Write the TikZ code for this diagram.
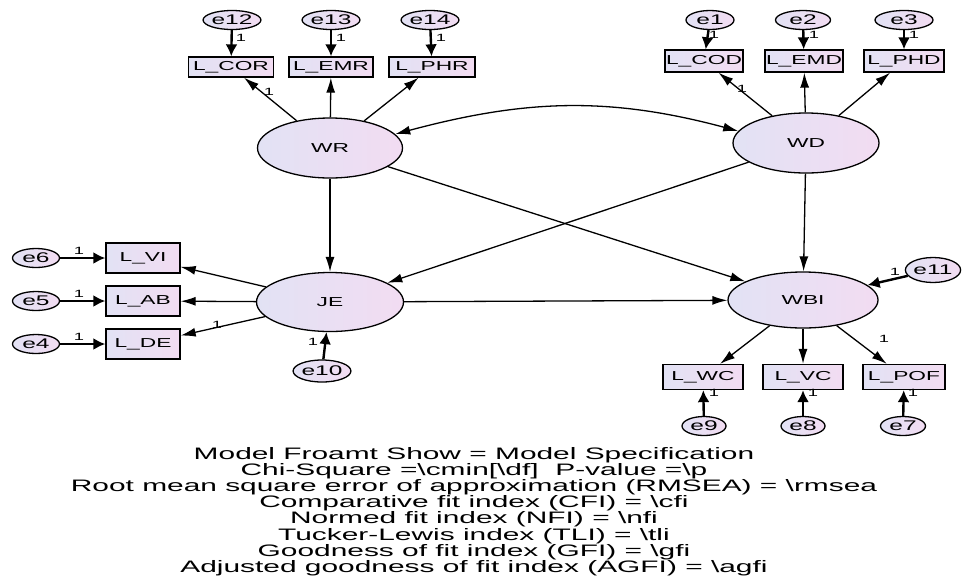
\documentclass[tikz,border=0pt]{standalone}
\usepackage{fontspec}
\setmainfont{Liberation Sans}
\usepackage{graphicx}
\usetikzlibrary{shapes.geometric,arrows.meta}
\definecolor{lavL}{RGB}{226,226,244}
\definecolor{lavR}{RGB}{242,220,242}
\newcommand\sx[1]{\scalebox{1.75}[1]{#1}}
\begin{document}
\begin{tikzpicture}[x=1pt,y=1pt,
 lat/.style={ellipse, draw, line width=1.3pt, left color=lavL, right color=lavR, inner sep=0pt, font=\fontsize{13}{14}\selectfont},
 obs/.style={rectangle, draw, line width=1.3pt, left color=lavL, right color=lavR, inner sep=0pt, font=\fontsize{13}{14}\selectfont},
 err/.style={ellipse, draw, line width=1.3pt, left color=lavL, right color=lavR, inner sep=0pt, minimum height=19pt, font=\fontsize{14}{15}\selectfont},
 one/.style={inner sep=0pt, font=\fontsize{10.5}{11}\selectfont},
 reg/.style={line width=1.3pt, -{Latex[length=15pt,width=9pt]}},
 epath/.style={line width=2.4pt, -{Latex[length=12pt,width=12pt]}},
 fitline/.style={anchor=base, xscale=1.8, inner sep=0pt, font=\fontsize{16.6}{16}\selectfont}
]
\useasboundingbox (0,0) rectangle (965,-579);

% latent variables
\node[lat, minimum width=145pt, minimum height=60pt] (WR) at (330,-148) {\sx{WR}};
\node[lat, minimum width=146pt, minimum height=60pt] (WD) at (806,-143) {\sx{WD}};
\node[lat, minimum width=147pt, minimum height=59pt] (JE) at (330,-302) {\sx{JE}};
\node[lat, minimum width=150pt, minimum height=56pt] (WBI) at (803,-300) {\sx{WBI}};

% observed
\node[obs, minimum width=85pt, minimum height=20pt] (LCOR) at (231,-67) {\sx{L\_COR}};
\node[obs, minimum width=84pt, minimum height=20pt] (LEMR) at (331,-67) {\sx{L\_EMR}};
\node[obs, minimum width=86pt, minimum height=20pt] (LPHR) at (432,-67) {\sx{L\_PHR}};
\node[obs, minimum width=78pt, minimum height=22pt] (LCOD) at (704,-61) {\sx{L\_COD}};
\node[obs, minimum width=78pt, minimum height=22pt] (LEMD) at (804,-61) {\sx{L\_EMD}};
\node[obs, minimum width=80pt, minimum height=22pt] (LPHD) at (904,-61) {\sx{L\_PHD}};
\node[obs, minimum width=74pt, minimum height=30pt] (LVI) at (143,-258) {\sx{L\_VI}};
\node[obs, minimum width=74pt, minimum height=30pt] (LAB) at (143,-301) {\sx{L\_AB}};
\node[obs, minimum width=74pt, minimum height=30pt] (LDE) at (143,-344) {\sx{L\_DE}};
\node[obs, minimum width=80pt, minimum height=25pt] (LWC) at (703,-377) {\sx{L\_WC}};
\node[obs, minimum width=80pt, minimum height=25pt] (LVC) at (803,-377) {\sx{L\_VC}};
\node[obs, minimum width=82pt, minimum height=25pt] (LPOF) at (904,-377) {\sx{L\_POF}};

% errors
\node[err, minimum width=56pt] (e12) at (232,-20) {\sx{e12}};
\node[err, minimum width=56pt] (e13) at (331,-20) {\sx{e13}};
\node[err, minimum width=56pt] (e14) at (430,-20) {\sx{e14}};
\node[err, minimum width=48pt] (e1) at (710,-20) {\sx{e1}};
\node[err, minimum width=55pt] (e2) at (803,-20) {\sx{e2}};
\node[err, minimum width=58pt] (e3) at (904,-20) {\sx{e3}};
\node[err, minimum width=47pt] (e6) at (36,-258) {\sx{e6}};
\node[err, minimum width=47pt] (e5) at (36,-301) {\sx{e5}};
\node[err, minimum width=47pt] (e4) at (36,-344) {\sx{e4}};
\node[err, minimum width=51pt, minimum height=22pt] (e10) at (322,-371) {\sx{e10}};
\node[err, minimum width=53pt, minimum height=25pt] (e11) at (933,-270) {\sx{e11}};
\node[err, minimum width=44pt] (e9) at (704,-426) {\sx{e9}};
\node[err, minimum width=44pt] (e8) at (803,-426) {\sx{e8}};
\node[err, minimum width=45pt] (e7) at (903,-426) {\sx{e7}};

% error paths
\foreach \a/\b in {e12/LCOR,e13/LEMR,e14/LPHR,e1/LCOD,e2/LEMD,e3/LPHD,e6/LVI,e5/LAB,e4/LDE,e10/JE,e11/WBI,e9/LWC,e8/LVC,e7/LPOF}
  \draw[epath] (\a) -- (\b);

% measurement paths
\foreach \a/\b in {WR/LCOR,WR/LEMR,WR/LPHR,WD/LCOD,WD/LEMD,WD/LPHD,JE/LVI,JE/LAB,JE/LDE,WBI/LWC,WBI/LVC,WBI/LPOF}
  \draw[reg] (\a) -- (\b);

% structural paths
\draw[reg] (WR) -- (JE);
\draw[reg] (WR) -- (WBI);
\draw[reg] (WD) -- (JE);
\draw[reg] (WD) -- (WBI);
\draw[reg] (JE) -- (WBI);
\draw[line width=1.3pt, {Latex[length=15pt,width=9pt]}-{Latex[length=15pt,width=9pt]}] (WR.12) to[out=15,in=165] (WD.170);

% "1" labels
\node[one] (o1) at (241,-38) {\sx{1}};
\node[one] (o2) at (341,-38) {\sx{1}};
\node[one] (o3) at (441,-38) {\sx{1}};
\node[one] (o4) at (269,-92) {\sx{1}};
\node[one] (o5) at (714,-35) {\sx{1}};
\node[one] (o6) at (814,-35) {\sx{1}};
\node[one] (o7) at (914,-35) {\sx{1}};
\node[one] (o8) at (742,-89) {\sx{1}};
\node[one] (o9) at (79,-251) {\sx{1}};
\node[one] (o10) at (79,-294) {\sx{1}};
\node[one] (o11) at (79,-337) {\sx{1}};
\node[one] (o12) at (217,-325) {\sx{1}};
\node[one] (o13) at (313,-342) {\sx{1}};
\node[one] (o14) at (895,-272) {\sx{1}};
\node[one] (o15) at (884,-339) {\sx{1}};
\node[one] (o16) at (714,-393) {\sx{1}};
\node[one] (o17) at (813,-393) {\sx{1}};
\node[one] (o18) at (913,-393) {\sx{1}};

% fit text
\node[fitline] (t1) at (474,-459) {Model Froamt Show = Model Specification};
\node[fitline] (t2) at (474,-475) {Chi-Square =\textbackslash cmin[\textbackslash df]\ \ P-value =\textbackslash p};
\node[fitline] (t3) at (474,-491) {Root mean square error of approximation (RMSEA) = \textbackslash rmsea};
\node[fitline] (t4) at (474,-507) {Comparative fit index (CFI) = \textbackslash cfi};
\node[fitline] (t5) at (474,-523) {Normed fit index (NFI) = \textbackslash nfi};
\node[fitline] (t6) at (474,-540) {Tucker-Lewis index (TLI) = \textbackslash tli};
\node[fitline] (t7) at (474,-556) {Goodness of fit index (GFI) = \textbackslash gfi};
\node[fitline] (t8) at (474,-572) {Adjusted goodness of fit index (AGFI) = \textbackslash agfi};
\end{tikzpicture}
\end{document}
